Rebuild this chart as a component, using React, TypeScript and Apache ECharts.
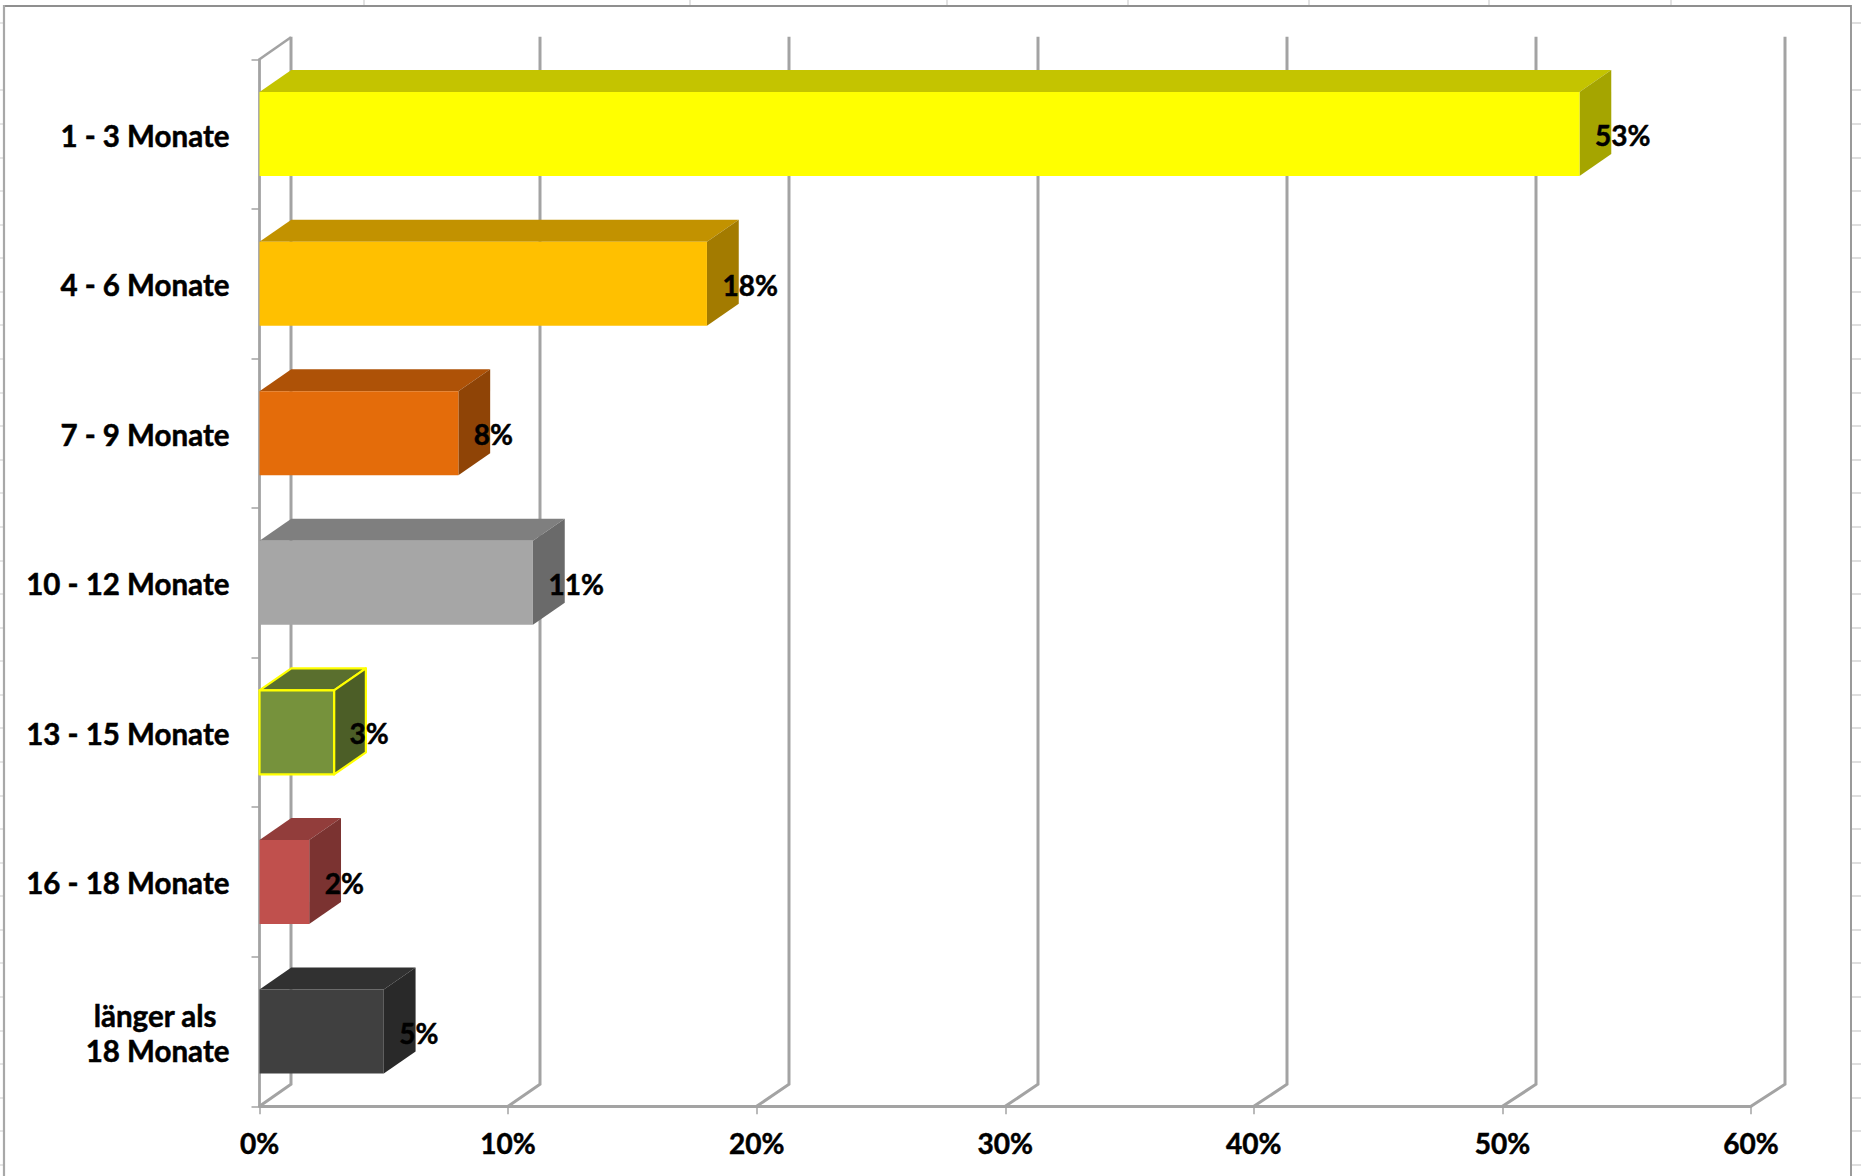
import React, { useEffect, useRef } from "react";
import * as echarts from "echarts";

const categories = ["1 - 3 Monate", "4 - 6 Monate", "7 - 9 Monate", "10 - 12 Monate", "13 - 15 Monate", "16 - 18 Monate", "länger als\n18 Monate"];
const values = [53.1, 18, 8, 11, 3, 2, 5];
const tickValues = [0, 10, 20, 30, 40, 50, 60];

const frontColors = ["#FFFF00", "#FFC000", "#E46C0A", "#A6A6A6", "#76923C", "#C0504D", "#404040"];
const topColors = ["#C4C400", "#C29200", "#AE5207", "#7F7F7F", "#5A6F2E", "#923D3B", "#313131"];
const sideColors = ["#A5A500", "#A37B00", "#8F4406", "#6A6A6A", "#4C5E27", "#7B3331", "#292929"];
const borderColors = ["", "", "", "", "#FFFF00", "", ""];

const sheetRowLines = [23, 90, 124, 158, 191, 225, 258, 292, 325, 359, 393, 426, 460, 493, 527, 561, 594, 628, 661, 695, 728, 762, 796, 829, 863, 896, 930, 963, 997, 1031, 1064, 1098, 1131, 1165];
const sheetColLines = [364, 690, 947, 1128, 1309, 1489, 1671];

const FONT = "Lato";
const BAR_DEPTH_X = 31.8;
const DEPTH_Y = 22;
const WALL = "#A3A3A3";
const thick = { textBorderColor: "#000000", textBorderWidth: 0.5 };

function renderWall(params: any, api: any) {
  const v = api.value(0);
  const cs = params.coordSys;
  const x = api.coord([v, 0])[0];
  const bottom = cs.y + cs.height;
  const top = cs.y;
  const depth = 31.5 + (v / 60) * 2.5;
  const children: any[] = [
    {
      type: "polyline",
      shape: { points: [[x + depth, top - DEPTH_Y - 0.5], [x + depth, bottom - DEPTH_Y], [x, bottom]] },
      style: { fill: "none", stroke: WALL, lineWidth: 3 },
    },
  ];
  if (v === 0) {
    children.push({
      type: "line",
      shape: { x1: x, y1: top, x2: x + depth, y2: top - DEPTH_Y },
      style: { stroke: WALL, lineWidth: 2.6 },
    });
  }
  return { type: "group", children };
}

function renderBar(_params: any, api: any) {
  const v = api.value(0);
  const i = api.value(1);
  const end = api.coord([v, i]);
  const start = api.coord([0, i]);
  const h = api.size([0, 1])[1] * 0.562;
  const x0 = start[0];
  const x1 = end[0];
  const y0 = end[1] - h / 2;
  const y1 = end[1] + h / 2;
  const border = borderColors[i];
  const edge = border ? { stroke: border, lineWidth: 2.2, lineJoin: "round" } : {};
  return {
    type: "group",
    children: [
      {
        type: "polygon",
        shape: { points: [[x0, y0], [x0 + BAR_DEPTH_X, y0 - DEPTH_Y], [x1 + BAR_DEPTH_X, y0 - DEPTH_Y], [x1, y0]] },
        style: { fill: topColors[i], ...edge },
      },
      {
        type: "polygon",
        shape: { points: [[x1, y0], [x1 + BAR_DEPTH_X, y0 - DEPTH_Y], [x1 + BAR_DEPTH_X, y1 - DEPTH_Y], [x1, y1]] },
        style: { fill: sideColors[i], ...edge },
      },
      {
        type: "rect",
        shape: { x: x0, y: y0, width: x1 - x0, height: y1 - y0 },
        style: { fill: frontColors[i], ...edge },
      },
      {
        type: "text",
        style: {
          text: `${Math.round(v)}%`,
          x: x1 + 15.5,
          y: end[1] + 1,
          align: "left",
          verticalAlign: "middle",
          fontFamily: FONT,
          fontWeight: 700,
          fontSize: 28,
          fill: "#000000",
          stroke: "#000000",
          lineWidth: 0.5,
        },
      },
    ],
  };
}

export default function App() {
  const ref = useRef<HTMLDivElement>(null);

  useEffect(() => {
    document.body.style.margin = "0";
    const chart = echarts.init(ref.current!, null, { renderer: "svg" });
    const decoration: any[] = [];
    sheetRowLines.forEach((y) => {
      decoration.push({ type: "line", silent: true, z: -1, shape: { x1: 1852, y1: y, x2: 1861, y2: y }, style: { stroke: "#D4D4D4", lineWidth: 1.5 } });
      decoration.push({ type: "line", silent: true, z: -1, shape: { x1: 0, y1: y, x2: 3, y2: y }, style: { stroke: "#DDDDDD", lineWidth: 1.5 } });
    });
    sheetColLines.forEach((x) => {
      decoration.push({ type: "line", silent: true, z: -1, shape: { x1: x, y1: 0, x2: x, y2: 5 }, style: { stroke: "#CFCFCF", lineWidth: 1.2 } });
    });
    decoration.push({ type: "line", silent: true, shape: { x1: 3, y1: 6, x2: 1851, y2: 6 }, style: { stroke: "#8F8F8F", lineWidth: 1.8 } });
    decoration.push({ type: "line", silent: true, shape: { x1: 4, y1: 5, x2: 4, y2: 1176 }, style: { stroke: "#A8A8A8", lineWidth: 2.2 } });
    decoration.push({ type: "line", silent: true, shape: { x1: 1851, y1: 5, x2: 1851, y2: 1176 }, style: { stroke: "#8F8F8F", lineWidth: 1.8 } });

    chart.setOption({
      animation: false,
      backgroundColor: "#FFFFFF",
      graphic: { elements: decoration },
      grid: { left: 259.5, top: 59.3, width: 1491.5, height: 1047, containLabel: false },
      xAxis: {
        type: "value",
        min: 0,
        max: 60,
        interval: 10,
        splitLine: { show: false },
        axisLine: { show: true, lineStyle: { color: WALL, width: 2.8 } },
        axisTick: { show: true, length: 8, lineStyle: { color: WALL, width: 1.5 } },
        axisLabel: {
          margin: 23,
          formatter: "{value}%",
          fontFamily: FONT,
          fontWeight: 700,
          fontSize: 28,
          color: "#000000",
          ...thick,
        },
      },
      yAxis: {
        type: "category",
        inverse: true,
        data: categories,
        axisLine: { show: true, onZero: false, lineStyle: { color: WALL, width: 2.8 } },
        axisTick: { show: true, length: 8, lineStyle: { color: WALL, width: 1.5 } },
        splitLine: { show: false },
        axisLabel: {
          margin: 30,
          align: "right",
          fontFamily: FONT,
          fontWeight: 700,
          fontSize: 29.5,
          color: "#000000",
          lineHeight: 35,
          padding: [2, 0, 0, 0],
          ...thick,
          formatter: (s: string) => {
            const parts = s.split("\n");
            return parts.length === 2 ? `{a|${parts[0]}}\n{b|${parts[1]}}` : s;
          },
          rich: {
            a: { fontFamily: FONT, fontWeight: 700, fontSize: 29.5, color: "#000000", lineHeight: 35, padding: [0, 13, 0, 0], ...thick },
            b: { fontFamily: FONT, fontWeight: 700, fontSize: 29.5, color: "#000000", lineHeight: 35, ...thick },
          },
        },
      },
      series: [
        {
          type: "custom",
          name: "grid",
          silent: true,
          z: 1,
          clip: false,
          data: tickValues.map((v) => [v, 0]),
          encode: { x: 0, y: 1 },
          renderItem: renderWall,
        },
        {
          type: "custom",
          name: "Dauer",
          z: 3,
          clip: false,
          data: values.map((v, i) => [v, i]),
          encode: { x: 0, y: 1 },
          renderItem: renderBar,
        },
      ],
    });
    return () => chart.dispose();
  }, []);

  return <div ref={ref} style={{ position: "absolute", left: 0, top: 0, width: 1861, height: 1176 }} />;
}
